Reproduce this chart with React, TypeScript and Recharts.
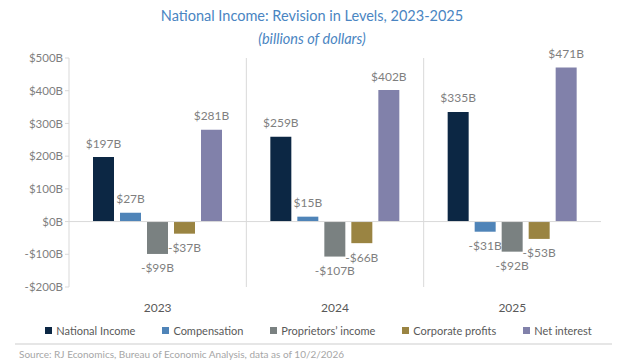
import { BarChart, Bar, XAxis, YAxis, CartesianGrid, ReferenceLine, Legend, LabelList } from 'recharts';

const years = ['2023', '2024', '2025'];
const nationalIncome = [197, 259, 335];
const compensation = [27, 15, -31];
const proprietorsIncome = [-99, -107, -92];
const corporateProfits = [-37, -66, -53];
const netInterest = [281, 402, 471];
const yTicks = [-200, -100, 0, 100, 200, 300, 400, 500];

const SERIES = [
  { key: 'nationalIncome', name: 'National Income', color: '#0c2744' },
  { key: 'compensation', name: 'Compensation', color: '#4f84b8' },
  { key: 'proprietorsIncome', name: 'Proprietors’ income', color: '#7a8181' },
  { key: 'corporateProfits', name: 'Corporate profits', color: '#9a8442' },
  { key: 'netInterest', name: 'Net interest', color: '#8181aa' },
];

const FONT = 'Lato, "Open Sans", sans-serif';

const chartData = years.map((year, i) => ({
  year,
  nationalIncome: nationalIncome[i],
  compensation: compensation[i],
  proprietorsIncome: proprietorsIncome[i],
  corporateProfits: corporateProfits[i],
  netInterest: netInterest[i],
}));

const fmt = (v: number) => (v < 0 ? `-$${Math.abs(v)}B` : `$${v}B`);

function ValueLabel(props: any) {
  const { x, y, width, height, value } = props;
  const top = Math.min(y, y + height);
  const bottom = Math.max(y, y + height);
  const cy = value < 0 ? bottom + 14 : top - 14;
  return (
    <text
      x={x + width / 2}
      y={cy}
      textAnchor="middle"
      dominantBaseline="central"
      fill="#7f7f7f"
      fontSize={12}
      fontFamily={FONT}
    >
      {fmt(value)}
    </text>
  );
}

function LegendContent() {
  return (
    <div
      style={{
        display: 'flex',
        justifyContent: 'center',
        gap: 27,
        paddingLeft: 36,
        paddingTop: 3,
        fontFamily: FONT,
        fontSize: 11,
        color: '#595959',
      }}
    >
      {SERIES.map((s) => (
        <div key={s.key} style={{ display: 'flex', alignItems: 'center' }}>
          <span style={{ display: 'inline-block', width: 7, height: 7, background: s.color, marginRight: 4 }} />
          <span>{s.name}</span>
        </div>
      ))}
    </div>
  );
}

export default function App() {
  return (
    <div style={{ position: 'absolute', left: 0, top: 0, width: 624, height: 362, background: '#fff', fontFamily: FONT }}>
      <div style={{ position: 'absolute', top: 7, width: 624, textAlign: 'center', color: '#4a85c2', fontSize: 14.5 }}>
        National Income: Revision in Levels, 2023-2025
      </div>
      <div style={{ position: 'absolute', top: 30, width: 624, textAlign: 'center', color: '#4a85c2', fontSize: 14.5, fontStyle: 'italic' }}>
        (billions of dollars)
      </div>
      <div style={{ position: 'absolute', top: 0, left: 0 }}>
        <BarChart
          width={624}
          height={342}
          data={chartData}
          margin={{ top: 58, right: 23, bottom: 3, left: 0 }}
          barCategoryGap={24}
          barGap={6}
        >
          <CartesianGrid
            horizontal={false}
            stroke="#d9d9d9"
            verticalCoordinatesGenerator={({ offset }: any) => [
              offset.left + offset.width / 3,
              offset.left + (2 * offset.width) / 3,
            ]}
          />
          <XAxis
            dataKey="year"
            axisLine={false}
            tickLine={false}
            height={34}
            tick={{ fill: '#595959', fontSize: 12, fontFamily: FONT }}
            tickMargin={10}
          />
          <YAxis
            domain={[-200, 500]}
            ticks={yTicks}
            interval={0}
            width={69}
            axisLine={{ stroke: '#d9d9d9' }}
            tickLine={{ stroke: '#d9d9d9' }}
            tickSize={4}
            tickMargin={2}
            tickFormatter={fmt}
            tick={{ fill: '#7f7f7f', fontSize: 11.5, fontFamily: FONT }}
          />
          <ReferenceLine y={0} stroke="#d9d9d9" />
          <Legend verticalAlign="bottom" height={18} content={<LegendContent />} />
          {SERIES.map((s) => (
            <Bar key={s.key} dataKey={s.key} name={s.name} fill={s.color} isAnimationActive={false}>
              <LabelList dataKey={s.key} content={<ValueLabel />} />
            </Bar>
          ))}
        </BarChart>
      </div>
      <div style={{ position: 'absolute', top: 343, left: 15, width: 597, height: 2, background: '#e6e6e6' }} />
      <div style={{ position: 'absolute', top: 348, left: 19, color: '#a6a6a6', fontSize: 10 }}>
        Source: RJ Economics, Bureau of Economic Analysis, data as of 10/2/2026
      </div>
    </div>
  );
}
